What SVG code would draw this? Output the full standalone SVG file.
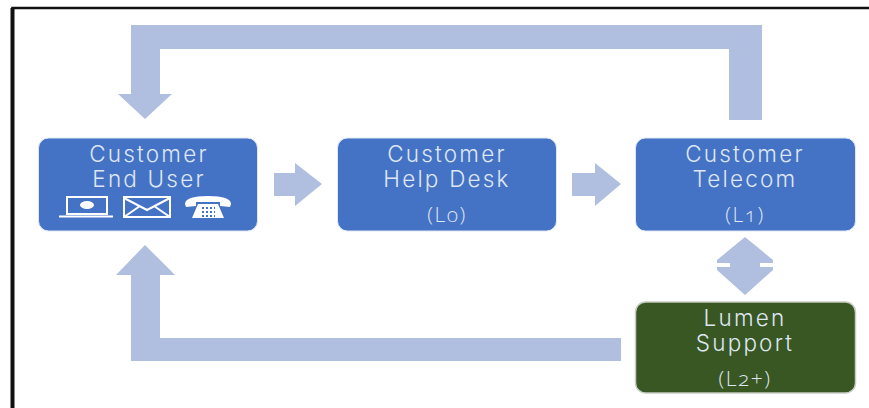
<svg xmlns="http://www.w3.org/2000/svg" width="869" height="408" viewBox="0 0 869 408">
<defs><style>
.n{stroke:#dfe6f4;stroke-width:1}
.b{fill:#4472c4}.g{fill:#385723}
.t{font-family:Inter,"Open Sans",sans-serif;font-size:22.500px;letter-spacing:2.200px;fill:#dfe6f4;text-anchor:middle;font-weight:300}
.s{font-family:"Open Sans",sans-serif;font-size:21px;letter-spacing:1.500px;font-variant-numeric:oldstyle-nums}
.a{fill:#b0bfdf}
.i{fill:none;stroke:#fff;stroke-width:2}
</style></defs>
<rect width="869" height="408" fill="#fff"/>
<path d="M12.500 408V8H869" fill="none" stroke="#111" stroke-width="2.500"/>
<path d="M12.500 408V8" fill="none" stroke="#111" stroke-width="4"/>
<g id="connectors" class="a">
<path d="M131 25H762V120H729V49H160V94H172L145 119L118 94H131Z"/>
<path d="M274 173H295V163L322 184L295 206V196H274Z"/>
<path d="M572 173H595V163L621 184L595 206V196H572Z"/>
<path d="M745 237L773 260V263H760V267H773V270L745 295L717 270V267H730V263H717V260Z"/>
<path d="M621 338V361H131V275H116L145 245L175 275H160V338Z"/>
</g>
<g id="end-user">
<rect class="n b" x="38.500" y="138" width="219" height="93" rx="10"/>
<text class="t" x="149" y="161.500">Customer</text><text class="t" x="149" y="186.500">End User</text>
<g id="laptop" class="i"><rect x="67" y="197" width="40" height="17"/><path d="M59 216.500H113"/><ellipse cx="87" cy="205" rx="7" ry="4" fill="#fff" stroke="none"/></g>
<g id="mail" class="i"><rect x="124" y="197" width="46" height="20"/><path d="M124 198L147 210L170 198M124 217L140 206M170 217L154 206"/></g>
<g id="phone"><path fill="#fff" d="M185 204Q185 196 208 196Q231 196 231 204L230 207L220 206V202H196V206L186 207ZM198 204H218L224 218H192Z"/><path stroke="#4472c4" stroke-width="2" stroke-dasharray="2 2" fill="none" d="M202 208H215M202 212H215M202 216H215"/></g>
</g>
<g id="help-desk">
<rect class="n b" x="337.500" y="138" width="219" height="93" rx="10"/>
<text class="t" x="447" y="161.500">Customer</text><text class="t" x="447" y="186.500">Help Desk</text><text class="t s" x="447" y="222">(L0)</text>
</g>
<g id="telecom">
<rect class="n b" x="635.500" y="138" width="220" height="93" rx="10"/>
<text class="t" x="745" y="161.500">Customer</text><text class="t" x="745" y="186.500">Telecom</text><text class="t s" x="745" y="222">(L1)</text>
</g>
<g id="lumen">
<rect class="g" x="635.500" y="302" width="220" height="91" rx="10" stroke="#c8cdc4" stroke-width="1.500"/>
<text class="t" x="745" y="325.500">Lumen</text><text class="t" x="745" y="350.500">Support</text><text class="t s" x="745" y="386">(L2+)</text>
</g>
</svg>
